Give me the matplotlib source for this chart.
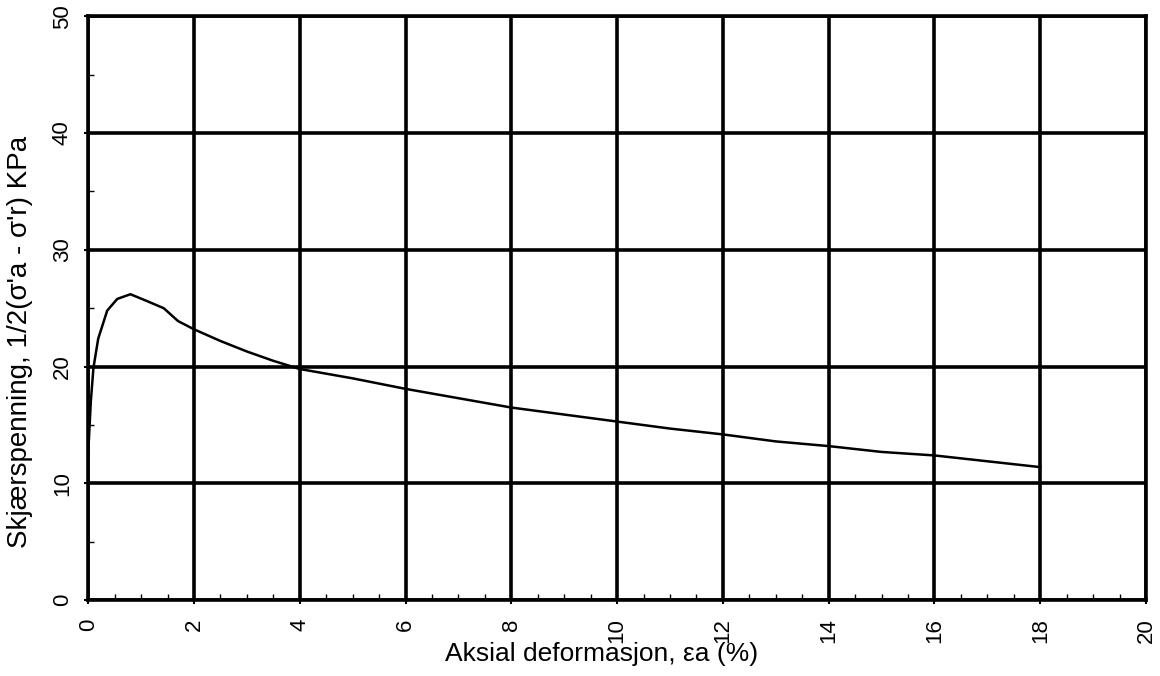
import numpy as np
import matplotlib
matplotlib.use("Agg")
import matplotlib.pyplot as plt
from matplotlib.ticker import MultipleLocator

strain = [0.0, 0.05, 0.1, 0.19, 0.36, 0.55, 0.8, 1.12, 1.43, 1.7, 2.0, 2.5,
          3.0, 3.5, 4.0, 5.0, 6.0, 7.0, 8.0, 9.0, 10.0, 11.0, 12.0, 13.0,
          14.0, 15.0, 16.0, 17.0, 18.0]
shear = [12.5, 17.0, 19.9, 22.4, 24.8, 25.8, 26.2, 25.6, 25.0, 23.9, 23.2,
         22.2, 21.3, 20.5, 19.8, 19.0, 18.1, 17.3, 16.5, 15.9, 15.3,
         14.7, 14.2, 13.6, 13.2, 12.7, 12.4, 11.9, 11.4]

xticks = [0, 2, 4, 6, 8, 10, 12, 14, 16, 18, 20]
yticks = [0, 10, 20, 30, 40, 50]

plt.rcParams['font.family'] = ['Liberation Sans', 'DejaVu Sans']

fig = plt.figure(figsize=(11.6, 6.76), dpi=100)
ax = fig.add_axes([0.076, 0.112, 0.912, 0.864])

ax.plot(strain, shear, color='black', lw=1.8)

ax.set_xlim(0, 20)
ax.set_ylim(0, 50)
ax.set_xticks(xticks)
ax.set_yticks(yticks)
ax.xaxis.set_minor_locator(MultipleLocator(0.5))
ax.yaxis.set_minor_locator(MultipleLocator(5))
ax.grid(True, which='major', color='black', lw=2.6)
ax.tick_params(axis='both', which='major', direction='inout', length=6,
               width=1.5, labelsize=16, color='black')
ax.tick_params(axis='x', which='major', pad=10)
ax.tick_params(axis='y', which='major', pad=8)
ax.tick_params(axis='both', which='minor', direction='in', length=4, width=1)
ax.tick_params(axis='x', labelrotation=90)
ax.tick_params(axis='y', labelrotation=90)
for lbl in ax.get_yticklabels():
    lbl.set_va('center')

for s in ax.spines.values():
    s.set_linewidth(2.6)

ax.set_xlabel("Aksial deformasjon, εa (%)", fontsize=19, va='top')
ax.xaxis.set_label_coords(0.485, -0.072)
ax.set_ylabel("Skjærspenning, 1/2(σ'a - σ'r) KPa", fontsize=20, va='center')
ax.yaxis.set_label_coords(-0.064, 0.442)

fig.savefig("out.png", dpi=100)
